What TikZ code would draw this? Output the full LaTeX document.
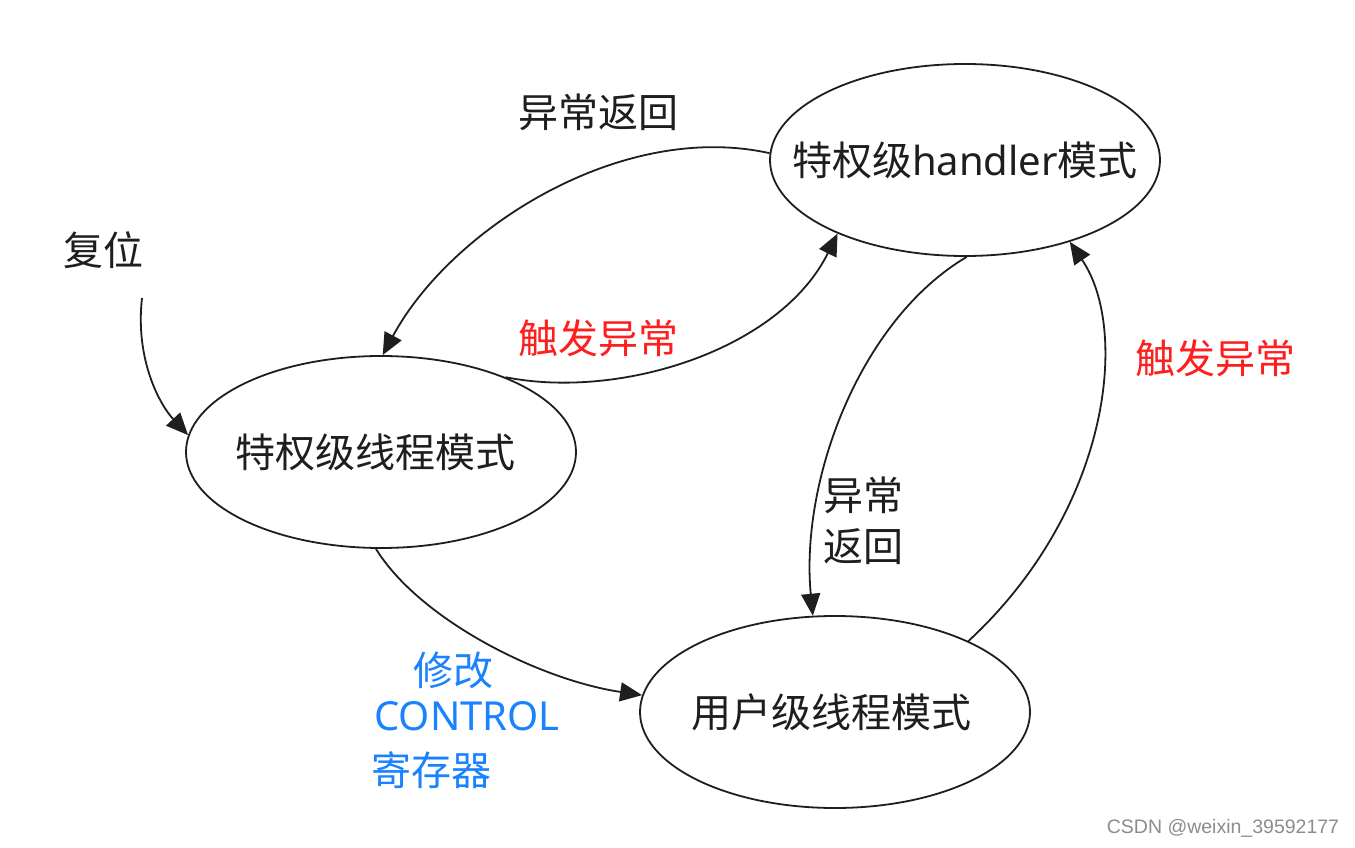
\documentclass[tikz,border=0pt]{standalone}
\usepackage{fontspec}
\setmainfont{Noto Sans}
\newfontfamily\cjk{Noto Sans CJK SC}
\newfontfamily\wmfont{Liberation Sans}
\usetikzlibrary{arrows.meta,shapes.geometric}
\definecolor{tred}{RGB}{255,30,30}
\definecolor{tblue}{RGB}{25,130,255}
\definecolor{ink}{RGB}{30,30,30}
\begin{document}
\begin{tikzpicture}[x=1pt,y=-1pt,
  state/.style={draw=ink, line width=1.8pt, ellipse, minimum width=390pt, minimum height=192pt, inner sep=0pt},
  stext/.style={font=\fontsize{40}{48}\selectfont, text=ink, inner sep=0pt},
  lbl/.style={font=\cjk\fontsize{40}{48}\selectfont, inner sep=0pt, text=ink},
  conn/.style={draw=ink, line width=1.8pt, -{Triangle[length=22pt,width=19pt]}}]
\useasboundingbox (0,0) rectangle (1355,848);
\fill[white] (0,0) rectangle (1355,848);

\node[state, label={[stext]center:{\cjk 特权级}handler{\cjk 模式}}] (h) at (965,160) {};
\node[state, label={[stext, xshift=-6pt]center:{\cjk 特权级线程模式}}] (t) at (381,452) {};
\node[state, label={[stext, xshift=-4pt]center:{\cjk 用户级线程模式}}] (u) at (835,712) {};

\node[lbl] (l1) at (598,112) {异常返回};
\node[lbl] (l2) at (103,250) {复位};
\node[lbl, text=tred] (l3) at (598,338) {触发异常};
\node[lbl, text=tred] (l4) at (1215,358) {触发异常};
\node[lbl] (l5) at (863,495) {异常};
\node[lbl] (l6) at (863,547) {返回};
\node[lbl, text=tblue] (l7) at (453,670) {修改};
\node[inner sep=0pt, text=tblue, font=\fontsize{40}{48}\selectfont] (l8) at (467,716) {CONTROL};
\node[lbl, text=tblue] (l9) at (431,770) {寄存器};
\node[inner sep=0pt, text=black!45, font=\wmfont\fontsize{19.5}{22}\selectfont] (wm) at (1223,828) {CSDN @weixin\_39592177};

\coordinate (rs) at (142,298);

\draw[conn] (rs) .. controls (135,360) and (160,405) .. (t.175);
\draw[conn] (h.178) .. controls (620,120) and (450,230) .. (t.89);
\draw[conn] (t.31) .. controls (620,400) and (780,350) .. (h.210);
\draw[conn] (h.271) .. controls (860,320) and (800,480) .. (u.103);
\draw[conn] (u.28) .. controls (1110,510) and (1130,330) .. (h.322);
\draw[conn] (t.267) .. controls (420,620) and (540,680) .. (u.175);
\end{tikzpicture}
\end{document}
